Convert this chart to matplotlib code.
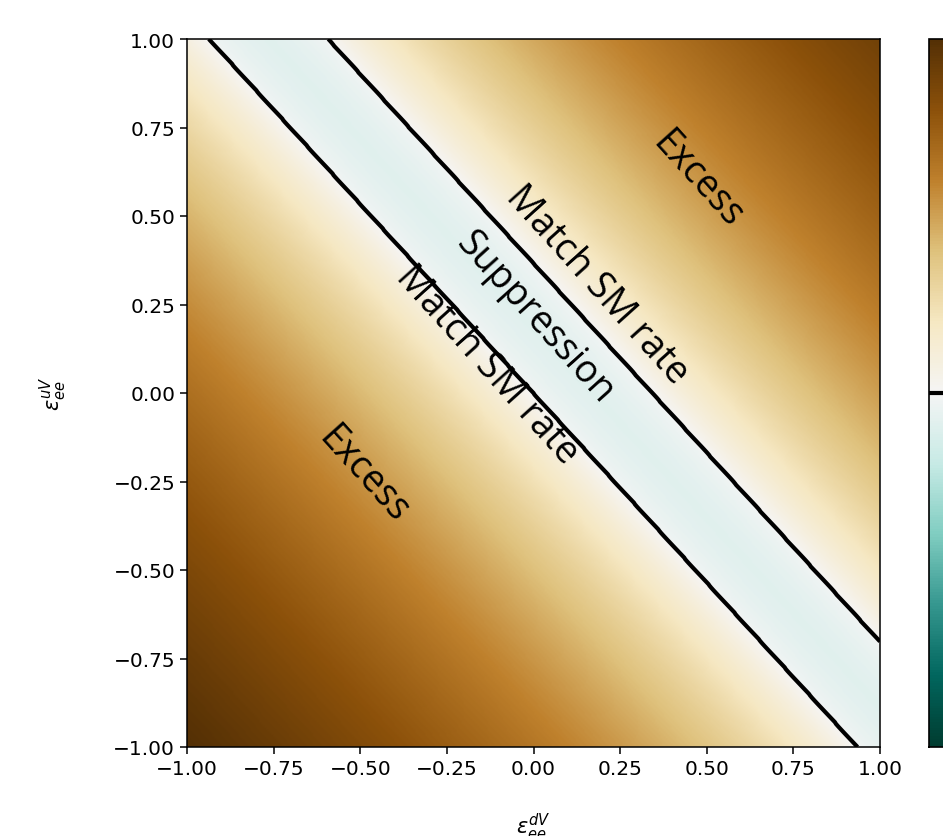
import numpy as np
import matplotlib
matplotlib.use('Agg')
import matplotlib.pyplot as plt

# Argon target: proton / neutron numbers and SM vector couplings
Z = 18
N = 22
g_p_V = 0.0229
g_n_V = -0.5

# NSI parameter ranges
eps_dV = np.linspace(-1, 1, 401)
eps_uV = np.linspace(-1, 1, 401)
ED, EU = np.meshgrid(eps_dV, eps_uV)

# weak charge with NSI relative to SM weak charge (rate ~ Q^2)
Q_SM = Z * g_p_V + N * g_n_V
Q_nsi = Z * (g_p_V + 2 * EU + ED) + N * (g_n_V + EU + 2 * ED)
ratio = np.abs(Q_nsi / Q_SM)

# colour scale: 0 = SM rate, >0 excess (brown), <0 suppression (teal)
qmax = ratio.max()
scale = np.where(ratio >= 1,
                 (ratio ** 0.4 - 1) / (qmax ** 0.4 - 1),
                 -0.09 * np.sqrt(np.clip(1 - ratio, 0, None)))

fig = plt.figure(figsize=(9.43, 8.37), dpi=100)
W, H = 943, 837
ax = fig.add_axes([187 / W, (H - 748) / H, 693 / W, 708 / H])
cax = fig.add_axes([929 / W, (H - 748) / H, 35 / W, 708 / H])

im = ax.imshow(scale, extent=[-1, 1, -1, 1], origin='lower', cmap='BrBG_r',
               vmin=-1, vmax=1, aspect='auto', interpolation='bilinear')
cs = ax.contour(ED, EU, scale, levels=[0], colors='black', linewidths=3)

cbar = fig.colorbar(im, cax=cax)
cbar.add_lines(cs)
cbar.outline.set_linewidth(1.2)

ticks = [-1.0, -0.75, -0.5, -0.25, 0.0, 0.25, 0.5, 0.75, 1.0]
ax.set_xticks(ticks)
ax.set_yticks(ticks)
ax.set_xticklabels([f'{t:.2f}'.replace('-', '\u2212') for t in ticks])
ax.set_yticklabels([f'{t:.2f}'.replace('-', '\u2212') for t in ticks])
ax.tick_params(labelsize=14.5, length=5, width=1.1)
for s in ax.spines.values():
    s.set_linewidth(1.1)

ax.set_xlabel(r'$\varepsilon_{ee}^{dV}$', fontsize=15, labelpad=24)
ax.set_ylabel(r'$\varepsilon_{ee}^{uV}$', fontsize=15, labelpad=32)

# region labels
font = dict(family='Open Sans', fontsize=27, ha='center', va='center', rotation=-48,
            rotation_mode='anchor')
ax.text(0.472, 0.605, 'Excess', **font)
ax.text(0.183, 0.308, 'Match SM rate', **font)
ax.text(0.004, 0.215, 'Suppression', **font)
ax.text(-0.134, 0.082, 'Match SM rate', **font)
ax.text(-0.492, -0.229, 'Excess', **font)

fig.savefig('out.png', dpi=100)
